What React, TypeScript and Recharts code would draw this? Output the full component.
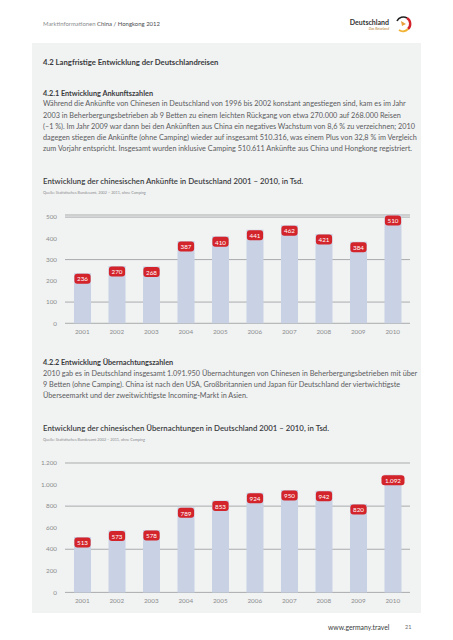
import { Bar, BarChart, CartesianGrid, LabelList, XAxis, YAxis } from 'recharts'

const years = ['2001', '2002', '2003', '2004', '2005', '2006', '2007', '2008', '2009', '2010']
const arrivals = [236, 270, 268, 387, 410, 441, 462, 421, 384, 510]
const overnights = [513, 573, 578, 789, 853, 924, 950, 942, 820, 1092]
const arrivalTicks = [0, 100, 200, 300, 400, 500]
const overnightTicks = [0, 200, 400, 600, 800, 1000, 1200]

const intro1 = [
  'Während die Ankünfte von Chinesen in Deutschland von 1996 bis 2002 konstant angestiegen sind, kam es im Jahr',
  '2003 in Beherbergungsbetrieben ab 9 Betten zu einem leichten Rückgang von etwa 270.000 auf 268.000 Reisen',
  '(–1 %). Im Jahr 2009 war dann bei den Ankünften aus China ein negatives Wachstum von 8,6 % zu verzeichnen; 2010',
  'dagegen stiegen die Ankünfte (ohne Camping) wieder auf insgesamt 510.316, was einem Plus von 32,8 % im Vergleich',
  'zum Vorjahr entspricht. Insgesamt wurden inklusive Camping 510.611 Ankünfte aus China und Hongkong registriert.',
]
const intro2 = [
  '2010 gab es in Deutschland insgesamt 1.091.950 Übernachtungen von Chinesen in Beherbergungsbetrieben mit über',
  '9 Betten (ohne Camping). China ist nach den USA, Großbritannien und Japan für Deutschland der viertwichtigste',
  'Überseemarkt und der zweitwichtigste Incoming-Markt in Asien.',
]

const font = 'Lato, "Open Sans", sans-serif'
const barColor = '#c8d2e4'
const red = '#d3232b'
const gridColor = '#a9abad'

// 1092 -> "1.092"
const de = (v: number) => String(v).replace(/\B(?=(\d{3})+(?!\d))/g, '.')

function ValueTag(props: any) {
  const { x, y, width, value } = props
  const txt = de(Number(value))
  const w = txt.length * 3.4 + 6
  const cx = x + width / 2
  const cy = y + 5.5
  return (
    <g>
      <rect x={cx - w / 2} y={cy - 5} width={w} height={10} rx={3} fill={red} />
      <text x={cx} y={cy + 0.3} textAnchor="middle" dominantBaseline="central" fill="#fff" fontSize={6.3} fontFamily={font}>
        {txt}
      </text>
    </g>
  )
}

function Txt({ x, y, size, color, weight, children }: any) {
  return (
    <div
      style={{
        position: 'absolute',
        left: x,
        top: y - 6,
        height: 12,
        lineHeight: '12px',
        fontSize: size,
        color,
        fontWeight: weight ?? 400,
        whiteSpace: 'nowrap',
        fontFamily: font,
      }}
    >
      {children}
    </div>
  )
}

function YearChart({ top, plotH, values, ticks, max }: { top: number; plotH: number; values: number[]; ticks: number[]; max: number }) {
  const data = years.map((y, i) => ({ year: y, value: values[i] }))
  return (
    <div style={{ position: 'absolute', left: 0, top }}>
      <BarChart width={453} height={plotH + 30} data={data} margin={{ top: 10, right: 43, bottom: 0, left: 0 }}>
        <CartesianGrid vertical={false} stroke={gridColor} strokeWidth={1} />
        <XAxis
          dataKey="year"
          axisLine={false}
          tickLine={false}
          tickSize={0}
          tickMargin={6}
          height={20}
          tick={{ fontSize: 6.3, fill: '#8a8c8e', fontFamily: font }}
        />
        <YAxis
          width={65}
          domain={[0, max]}
          ticks={ticks}
          axisLine={false}
          tickLine={false}
          tickFormatter={(v) => de(Number(v))}
          tick={{ fontSize: 6.3, fill: '#8a8c8e', fontFamily: font }}
        />
        <Bar dataKey="value" fill={barColor} barSize={17} isAnimationActive={false}>
          <LabelList dataKey="value" content={ValueTag} />
        </Bar>
      </BarChart>
    </div>
  )
}

export default function App() {
  return (
    <div style={{ position: 'absolute', left: 0, top: 0, width: 453, height: 640, background: '#fff', overflow: 'hidden', fontFamily: font }}>
      <Txt x={43} y={24} size={5.95} color="#8a8c8e">
        Marktinformationen <span style={{ color: '#4a4c4e' }}>China / Hongkong 2012</span>
      </Txt>
      <div style={{ position: 'absolute', left: 340, top: 18, width: 49, textAlign: 'right', fontFamily: font }}>
        <div style={{ fontSize: 7, fontWeight: 700, color: '#333', lineHeight: '9px' }}>Deutschland</div>
        <div style={{ fontSize: 3.5, fontStyle: 'italic', color: '#b07a2a', lineHeight: '5px' }}>Das Reiseland</div>
      </div>
      <svg style={{ position: 'absolute', left: 394, top: 15 }} width={18} height={18}>
        <path d="M3 6 A7 7 0 0 1 13 3" stroke="#222" strokeWidth={1.6} fill="none" />
        <path d="M13 3 A7 7 0 0 1 14 14" stroke={red} strokeWidth={2.4} fill="none" />
        <path d="M14 14 A7 7 0 0 1 5 15" stroke="#f2b233" strokeWidth={2} fill="none" />
        <path d="M7 6 L12 9 L8 11 Z" fill="#e8a03a" />
      </svg>

      <div style={{ position: 'absolute', left: 32, top: 43, width: 389, height: 570, background: '#f1f2f2' }} />

      <Txt x={43} y={62} size={7.7} color="#3a3c3e" weight={700}>
        4.2 Langfristige Entwicklung der Deutschlandreisen
      </Txt>
      <Txt x={43} y={94} size={7.3} color="#3a3c3e" weight={700}>
        4.2.1 Entwicklung Ankunftszahlen
      </Txt>
      {intro1.map((l, i) => (
        <Txt key={i} x={43} y={104.3 + i * 11.2} size={7.28} color="#5a5c5e">
          {l}
        </Txt>
      ))}

      <Txt x={43} y={181} size={7.8} color="#3a3c3e" weight={600}>
        Entwicklung der chinesischen Ankünfte in Deutschland 2001 – 2010, in Tsd.
      </Txt>
      <Txt x={43} y={193} size={3.8} color="#8a8c8e">
        Quelle: Statistisches Bundesamt, 2002 – 2011, ohne Camping
      </Txt>
      <YearChart top={205} plotH={108.3} values={arrivals} ticks={arrivalTicks} max={500} />

      <Txt x={43} y={363} size={7.3} color="#3a3c3e" weight={700}>
        4.2.2 Entwicklung Übernachtungszahlen
      </Txt>
      {intro2.map((l, i) => (
        <Txt key={i} x={43} y={374 + i * 11} size={7.28} color="#5a5c5e">
          {l}
        </Txt>
      ))}

      <Txt x={43} y={428} size={7.8} color="#3a3c3e" weight={600}>
        Entwicklung der chinesischen Übernachtungen in Deutschland 2001 – 2010, in Tsd.
      </Txt>
      <Txt x={43} y={440} size={3.8} color="#8a8c8e">
        Quelle: Statistisches Bundesamt 2002 – 2011, ohne Camping
      </Txt>
      <YearChart top={453.3} plotH={129.4} values={overnights} ticks={overnightTicks} max={1200} />

      <Txt x={328} y={627} size={6.8} color="#3a3c3e">
        www.germany.travel
      </Txt>
      <Txt x={405} y={627} size={5.5} color="#6a6c6e">
        21
      </Txt>
    </div>
  )
}
